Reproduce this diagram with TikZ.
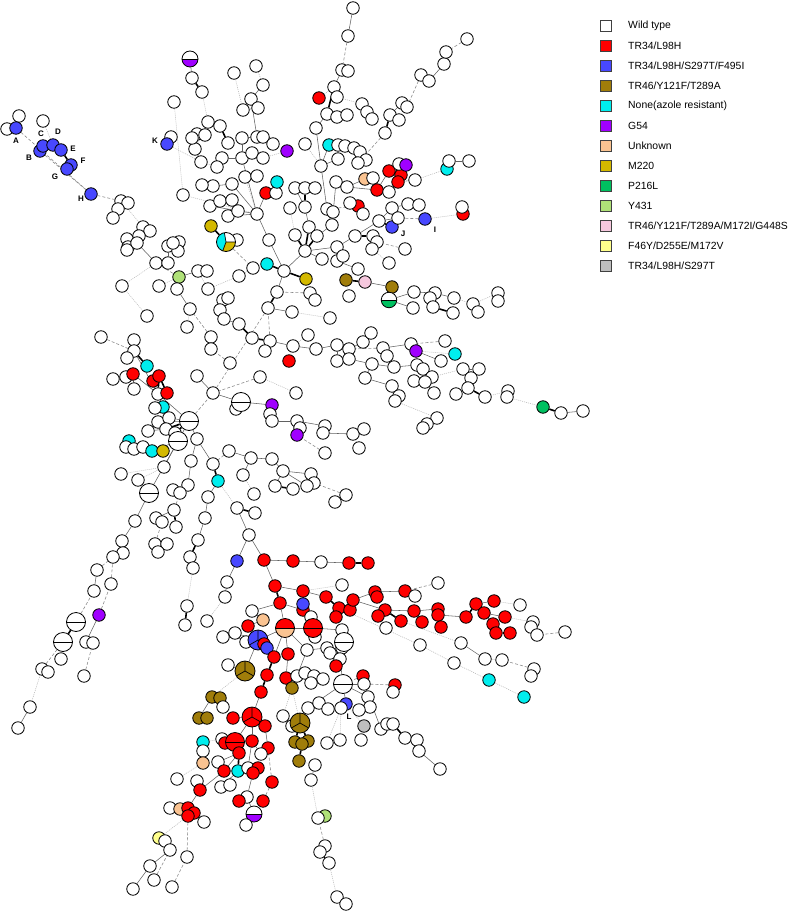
\documentclass[tikz,border=0pt]{standalone}
\usepackage{fontspec}
\setmainfont{Liberation Sans}
\usepackage{tikz}

\definecolor{tRed}{RGB}{255,0,0}
\definecolor{tBlue}{RGB}{72,72,255}
\definecolor{tOlive}{RGB}{160,125,10}
\definecolor{tCyan}{RGB}{0,238,238}
\definecolor{tPurple}{RGB}{160,0,255}
\definecolor{tPeach}{RGB}{250,195,145}
\definecolor{tGold}{RGB}{212,185,0}
\definecolor{tGreen}{RGB}{0,192,96}
\definecolor{tLime}{RGB}{175,225,120}
\definecolor{tPink}{RGB}{246,200,222}
\definecolor{tYellow}{RGB}{255,255,140}
\definecolor{tGrey}{RGB}{190,190,190}

\pgfdeclarelayer{links}
\pgfsetlayers{links,main}

\tikzset{
  iso/.style={circle, draw=black, line width=0.8pt, minimum size=12.5pt, inner sep=0pt},
  wt/.style={iso, fill=white},   rd/.style={iso, fill=tRed},
  bl/.style={iso, fill=tBlue},   br/.style={iso, fill=tOlive},
  cy/.style={iso, fill=tCyan},   pu/.style={iso, fill=tPurple},
  pc/.style={iso, fill=tPeach},  gd/.style={iso, fill=tGold},
  gn/.style={iso, fill=tGreen},  lg/.style={iso, fill=tLime},
  pk/.style={iso, fill=tPink},   yl/.style={iso, fill=tYellow},
  gy/.style={iso, fill=tGrey},
  half/.style 2 args={iso, minimum size=19pt, fill=#1,
    path picture={\fill[#2] (path picture bounding box.west) rectangle (path picture bounding box.south east);
      \draw[line width=0.7pt] (path picture bounding box.west) -- (path picture bounding box.east);}},
  hww/.style={half={white}{white}},
  hwp/.style={half={white}{tPurple}, minimum size=16pt},
  hwg/.style={half={white}{tGreen}, minimum size=15.5pt},
  hrp/.style={half={tRed}{tPeach}},
  hrr/.style={half={tRed}{tRed}},
  tri/.style={iso, minimum size=20pt, fill=#1,
    path picture={\draw[line width=0.7pt] (path picture bounding box.center) -- ++(90:11pt)
      (path picture bounding box.center) -- ++(210:11pt)
      (path picture bounding box.center) -- ++(330:11pt);}},
  trd/.style={tri=tRed}, tbl/.style={tri=tBlue}, tbr/.style={tri=tOlive},
  pcg/.style={iso, minimum size=19pt, fill=white,
    path picture={\begin{scope}[shift={(path picture bounding box.center)}]
      \fill[tCyan] (0pt,0pt) -- (100:14pt) -- (170:14pt) -- (250:14pt) -- cycle;
      \fill[tGold] (0pt,0pt) -- (250:14pt) -- (300:14pt) -- (0:14pt) -- cycle;
      \draw[line width=0.7pt] (100:14pt) -- (0pt,0pt) -- (250:14pt) (0pt,0pt) -- (0:14pt);
      \end{scope}}},
  % --- links of the tree ---
  sl/.style={draw=black!62, line width=0.55pt},
  dl/.style={draw=black!45, line width=0.6pt, dash pattern=on 3pt off 2pt},
  tl/.style={draw=black!28, line width=0.55pt, dash pattern=on 1pt off 1pt},
  kl/.style={draw=black, line width=1.6pt},
  nl/.style={draw=none},
  % --- key and labels ---
  key/.style={draw=black!75, line width=0.7pt, minimum size=11.5pt, inner sep=0pt},
  keytext/.style={anchor=west, inner sep=0pt, font=\fontsize{10.4}{12}\selectfont},
  lbl/.style={inner sep=0pt, font=\bfseries\fontsize{8}{9}\selectfont}
}

% name/x/y/style/parent/link
\def\mstlist{%
c0/305/251/wt/c1/nl, c1/295/235/wt/c0/kl, c2/309/227/wt/c0/kl, c3/317/236/wt/c0/kl,
c4/322/259/wt/c0/sl, c5/337/247/wt/c0/sl, c6/337/261/wt/c5/sl, c7/343/256/wt/c5/kl,
c8/358/269/wt/c6/sl, c9/284/271/wt/c0/sl, c10/267/264/cy/c9/kl, c11/253/268/wt/c10/tl,
c12/239/276/wt/c11/tl, c13/306/279/gd/c9/kl, c14/277/292/wt/c9/sl, c15/268/308/wt/c14/kl,
c16/292/312/wt/c15/sl, c17/310/293/wt/c14/dl, c18/315/300/wt/c17/sl, c19/330/318/wt/c16/tl,
c20/269/240/wt/c9/sl, c21/257/214/wt/c20/sl, c22/355/236/wt/c5/sl, c23/373/236/wt/c22/kl,
c24/377/242/wt/c23/sl, c25/372/249/wt/c24/sl, c26/405/249/wt/c24/dl, c27/389/263/wt/c25/tl,
c28/346/280/br/c8/tl, c29/365/282/pk/c28/kl, c30/392/287/br/c29/sl, c31/389/300/hwg/c30/sl,
c32/349/296/wt/c28/tl, c33/414/292/wt/c31/sl, c34/413/308/wt/c31/sl, c35/435/293/wt/c33/sl,
c36/430/298/wt/c35/kl, c37/454/298/wt/c35/sl, c38/433/307/wt/c36/sl, c39/453/313/wt/c38/kl,
c40/473/304/wt/c37/tl, c41/478/312/wt/c40/sl, c42/498/293/wt/c40/tl, c43/498/301/wt/c42/tl,
u1/332/225/wt/c3/sl, u2/327/209/wt/u1/sl, u3/333/212/wt/u2/sl, u4/290/208/wt/c1/tl,
u5/305/207/wt/c2/sl, u6/295/188/wt/u5/sl, u7/305/188/wt/u5/kl, u8/315/188/wt/u7/sl,
u9/321/166/wt/u2/sl, u10/316/128/wt/u9/sl, u11/305/144/wt/u9/tl, u12/327/114/wt/u10/sl,
u13/337/117/wt/u12/sl, u14/347/115/wt/u13/sl, u15/334/87/wt/u12/kl, u16/337/97/wt/u15/sl,
u17/319/98/rd/u15/tl, u18/342/70/wt/u15/sl, u19/348/71/wt/u18/sl, u20/348/36/wt/u18/dl,
u21/353/8/wt/u20/sl, u22/329/145/cy/u9/sl, u23/338/145/wt/u22/sl, u24/345/146/wt/u23/sl,
u25/354/148/wt/u24/tl, u26/360/152/wt/u25/tl, u27/366/160/wt/u26/sl, u28/358/163/wt/u27/sl,
u29/338/159/wt/u9/sl, u30/336/182/wt/u1/sl, u31/347/187/wt/u30/sl, u32/365/179/pc/u31/sl,
u33/373/178/wt/u32/sl, u34/377/190/rd/u31/sl, u35/389/192/wt/u34/sl, u36/389/171/rd/u34/sl,
u37/401/175/rd/u36/kl, u38/398/182/rd/u37/sl, u39/399/164/wt/u36/sl, u40/406/165/pu/u39/sl,
u41/415/180/wt/u38/dl, u42/447/169/cy/u41/tl, u43/449/161/wt/u42/sl, u44/469/161/wt/u43/sl,
u45/358/206/rd/u2/dl, u46/363/214/wt/u45/sl, u47/350/203/wt/u45/sl, u48/379/221/wt/c22/sl,
u49/392/227/bl/u48/kl, u50/392/208/wt/u48/sl, u51/408/204/wt/u50/sl, u52/419/205/wt/u51/sl,
u53/398/218/wt/u48/sl, u54/425/219/bl/u53/dl, u55/463/214/rd/u54/tl, u56/462/207/wt/u55/sl,
u57/362/104/wt/u16/tl, u58/367/112/wt/u57/sl, u59/372/119/wt/u58/sl, u60/385/133/wt/u28/dl,
u61/390/115/wt/u60/kl, u62/399/120/wt/u61/sl, u63/402/103/wt/u61/sl, u64/407/107/wt/u63/sl,
u65/421/75/wt/u64/dl, u66/429/81/wt/u65/sl, u67/444/64/wt/u66/sl, u68/446/52/wt/u67/sl,
u69/467/39/wt/u68/dl,
v1/245/177/wt/c21/tl, v2/257/176/wt/v1/sl, v3/232/184/wt/c21/sl, v4/213/186/wt/v3/sl,
v5/202/185/wt/v4/sl, v6/183/195/wt/c21/tl, v7/210/206/wt/c21/sl, v8/220/201/wt/v7/sl,
v9/232/200/wt/v8/sl, v10/228/216/wt/c21/sl, v11/238/211/wt/v10/kl, v12/266/193/rd/c21/sl,
v13/276/193/wt/v12/sl, v14/277/182/cy/v13/sl, v15/242/158/wt/c21/sl, v16/252/153/wt/v15/sl,
v17/263/158/wt/v16/sl, v18/222/158/wt/v15/sl, v19/217/167/wt/v18/sl, v20/201/162/wt/v19/tl,
v21/195/149/wt/v20/sl, v22/197/134/wt/v21/sl, v23/205/135/wt/v22/sl, v24/192/138/wt/v22/sl,
v25/208/122/wt/v21/tl, v26/220/126/wt/v25/sl, v27/228/143/wt/v26/kl, v28/174/102/wt/v6/tl,
v30/171/137/wt/v29/sl, v29/167/144/bl/v20/tl, v31/242/138/wt/v15/sl, v32/257/137/wt/v31/sl,
v33/263/137/wt/v32/sl, v34/273/144/wt/v33/sl, v35/287/151/pu/v17/tl, v36/251/99/wt/v32/sl,
v37/258/108/wt/v36/sl, v38/243/110/wt/v37/sl, v39/263/85/wt/v36/sl, v40/256/66/wt/v39/tl,
v41/234/73/wt/v38/tl, v42/202/92/wt/v25/tl, v43/192/78/wt/v42/kl, v44/190/59/hwp/v43/sl,
w3/237/240/wt/w1/sl, w1/226/242/pcg/c11/dl, w2/211/226/gd/w1/kl,
b0/19/116/wt/b1/sl, b2/7/129/wt/b1/sl, b1/16/128/bl/b10/dl, b3/43/121/wt/b5/tl,
b6/40/151/bl/b10/dl, b4/43/146/bl/b6/sl, b5/53/145/bl/b4/sl, b7/61/150/bl/b5/sl,
b8/71/165/bl/b7/kl, b9/67/169/bl/b8/sl, b10/91/194/bl/d1/dl,
d1/121/201/wt/d5/tl, d2/128/203/wt/d1/sl, d3/118/209/wt/d1/sl, d4/113/218/wt/d3/sl,
d5/143/227/wt/d7/sl, d6/150/231/wt/d5/sl, d7/139/236/wt/d11/sl, d8/127/239/wt/d7/sl,
d9/128/247/wt/d8/sl, d10/127/250/wt/d9/sl, d11/137/243/wt/d12/sl, d12/156/263/wt/d17/dl,
d13/168/263/wt/d12/kl, d14/168/246/wt/d13/sl, d15/179/242/wt/d14/sl, d16/178/251/wt/d15/sl,
d17/179/277/lg/d20/sl, d18/122/286/wt/d12/tl, d19/159/286/wt/d17/tl, d20/198/271/wt/d22/tl,
d21/207/271/wt/d20/sl, d22/208/289/wt/c12/tl, d23/177/289/wt/d17/sl, d24/190/309/wt/d23/sl,
d26/147/316/wt/d18/tl, d27/187/327/wt/d24/tl, d28/173/243/wt/d15/sl,
m1/223/300/wt/m3/sl, m2/228/298/wt/m1/sl, m3/220/310/wt/m4/sl, m4/224/319/wt/m5/sl,
m5/239/324/wt/m6/kl, m6/252/338/wt/m7/kl, m7/270/341/wt/c15/dl, m8/265/351/wt/m7/sl,
m9/293/346/wt/m7/sl, m10/308/335/wt/m9/tl, m11/316/349/wt/m9/sl, m12/289/361/rd/m9/tl,
m13/337/345/wt/m11/sl, m14/349/349/wt/m13/sl, m15/363/342/wt/m14/sl, m16/371/333/wt/m15/sl,
m17/337/361/wt/m13/sl, m18/349/359/wt/m17/sl, m19/383/348/wt/m14/dl, m20/387/356/wt/m19/sl,
m21/411/344/wt/m19/sl, m22/416/351/pu/m21/sl, m23/445/341/wt/m21/dl, m24/455/354/cy/m22/tl,
m25/441/361/wt/m22/sl, m26/372/364/wt/m18/sl, m27/365/378/wt/m26/sl, m28/394/367/wt/m26/sl,
m29/417/365/wt/m28/sl, m30/423/369/wt/m29/sl, m31/432/377/wt/m30/sl, m32/414/381/wt/m31/sl,
m33/425/382/wt/m31/sl, m34/434/393/wt/m33/sl, m35/463/369/wt/m31/tl, m36/479/369/wt/m35/sl,
m37/471/378/wt/m36/kl, m38/468/388/wt/m37/sl, m39/485/397/wt/m38/kl, m40/456/394/wt/m38/tl,
m41/508/391/wt/m39/tl, m42/507/397/wt/m41/sl, m43/543/407/gn/m42/tl, m44/561/413/wt/m43/kl,
m45/583/411/wt/m44/sl, m46/392/386/wt/m27/sl, m47/399/396/wt/m46/sl, m48/395/401/wt/m47/sl,
m49/437/418/wt/m48/tl, m50/427/424/wt/m49/sl, m51/423/428/wt/m50/sl, m52/211/337/wt/d24/dl,
m53/211/349/wt/m52/sl, m54/230/363/wt/m53/dl, m55/197/376/wt/m56/sl, m56/213/393/wt/c15/dl,
m57/260/377/wt/m56/dl, m58/296/393/wt/m57/tl, m60/236/409/wt/m59/sl, m59/241/402/hww/m56/sl,
m61/272/405/pu/m59/sl, m62/270/414/wt/m61/sl, m63/272/421/wt/m62/sl, m64/297/421/wt/m63/sl,
m65/300/428/wt/m64/sl, m66/297/435/pu/m65/sl, m67/325/426/wt/m64/sl, m68/323/433/wt/m67/sl,
m69/353/434/wt/m68/sl, m70/364/429/wt/m69/sl, m71/325/453/wt/m66/dl, m72/359/448/wt/m69/tl,
l1/189/421/hww/m56/dl, l2/197/439/wt/l1/sl, l3/101/337/wt/l5/dl, l4/134/340/wt/l5/sl,
l5/134/351/wt/l8/sl, l6/127/358/wt/l5/sl, l7/147/366/cy/l5/kl, l8/158/394/wt/l1/sl,
l9/126/377/wt/l10/sl, l10/133/374/rd/l8/sl, l11/153/381/rd/l12/sl, l12/159/376/rd/l8/kl,
l13/167/393/rd/l12/kl, l14/113/379/wt/l10/sl, l15/134/389/wt/l10/sl, l16/163/407/cy/l8/sl,
l17/155/408/wt/l16/sl, l18/158/422/wt/l1/sl, l19/169/418/wt/l1/sl, l20/166/429/wt/l1/kl,
l21/175/433/wt/l1/kl, l22/148/431/wt/l20/sl, l23/178/441/hww/l1/sl, l24/129/441/cy/l25/sl,
l25/126/447/wt/l26/sl, l26/134/449/wt/l27/sl, l27/143/447/wt/l28/sl, l28/152/451/cy/l23/sl,
l29/163/451/gd/l28/sl, l30/191/461/wt/l2/sl, l31/164/467/wt/l23/sl, l32/121/474/wt/l31/tl,
l33/138/480/wt/l31/tl, l34/188/485/wt/l30/sl, l35/173/490/wt/l34/sl, l36/180/493/wt/l35/sl,
l37/149/493/hww/l23/sl, l38/174/510/wt/l36/dl, l39/176/527/wt/l38/kl, l40/156/518/wt/l38/sl,
l41/162/522/wt/l40/sl, l42/155/544/wt/l41/dl, l43/167/544/wt/l42/sl, l44/158/552/wt/l43/sl,
l45/135/521/wt/l37/sl, l46/122/541/wt/l45/sl, l47/123/553/wt/l46/kl, l48/113/557/wt/l47/sl,
l49/97/570/wt/l48/dl, l50/111/584/wt/l48/dl, l51/94/591/wt/l49/sl, l52/99/615/pu/l50/dl,
l53/76/622/hww/l51/dl, l54/63/642/hww/l53/kl, l55/86/642/wt/l52/sl, l56/93/643/wt/l55/sl,
l57/61/659/wt/l54/sl, l58/42/669/wt/l54/dl, l59/48/672/wt/l58/sl, l60/84/676/wt/l56/dl,
l61/30/707/wt/l58/tl, l63/18/728/wt/l61/sl,
k1/213/464/wt/l2/sl, k2/218/481/cy/k1/kl, k3/208/497/wt/k2/sl, k4/205/518/wt/k3/sl,
k5/198/540/wt/k4/sl, k6/190/557/wt/k5/kl, k7/193/568/wt/k6/sl, k8/187/606/wt/k7/tl,
k9/185/625/wt/k8/kl, k10/207/621/wt/k11/tl, k11/225/597/wt/k12/sl, k12/227/582/wt/k13/sl,
k13/237/561/bl/k14/sl, k14/249/535/wt/k15/sl, k15/237/508/wt/k2/tl, k16/255/513/wt/k15/kl,
k17/229/451/wt/k1/dl, k18/251/458/wt/k17/sl, k19/272/459/wt/k18/sl, k20/243/475/wt/k18/sl,
k21/254/494/wt/k20/tl, k22/283/471/wt/k19/sl, k23/311/474/wt/k22/sl, k24/314/483/wt/k23/sl,
k25/307/486/wt/k22/sl, k26/275/486/wt/k22/sl, k27/293/489/wt/k26/kl, k28/346/495/wt/k24/dl,
k29/335/502/wt/k28/sl,
r1/264/560/rd/k14/sl, r2/293/561/rd/r1/sl, r3/321/562/wt/r2/sl, r4/349/563/rd/r3/sl,
r5/368/563/rd/r4/kl, r6/275/586/rd/r1/sl, r7/303/591/rd/r6/sl, r8/342/585/wt/r7/tl,
r9/280/603/rd/r6/kl, r11/303/610/rd/r9/sl, r10/303/604/bl/r11/sl, r12/326/597/rd/r7/sl,
r13/339/608/rd/r12/kl, r14/336/617/rd/r13/sl, r15/350/610/rd/r13/sl, r16/353/600/rd/r15/sl,
r17/375/592/rd/r16/sl, r18/377/597/rd/r17/sl, r19/405/591/rd/r17/sl, r20/415/596/wt/r19/sl,
r21/438/583/wt/r19/dl, r22/385/610/rd/r16/sl, r23/378/616/rd/r22/sl, r24/401/621/rd/r22/kl,
r25/386/628/wt/r23/sl, r26/414/611/rd/r22/sl, r27/422/622/rd/r26/kl, r28/438/609/rd/r26/sl,
r29/438/615/rd/r28/sl, r30/441/627/rd/r29/kl, r31/466/617/rd/r29/sl, r32/476/604/rd/r31/kl,
r33/494/601/rd/r32/sl, r34/484/613/rd/r32/sl, r35/505/617/rd/r34/sl, r36/493/624/rd/r34/sl,
r37/496/633/rd/r36/sl, r38/510/633/rd/r37/kl, r39/520/605/wt/r33/tl, r40/533/622/wt/r35/tl,
r41/531/627/wt/r40/sl, r42/537/635/wt/r41/sl, r43/565/632/wt/r42/dl, r44/420/645/wt/r13/tl,
r45/461/643/wt/r24/tl, r46/485/659/wt/r45/sl, r47/502/660/wt/r46/tl, r48/534/669/wt/r47/dl,
r49/531/676/wt/r48/sl, r50/454/663/wt/r44/tl, r51/489/680/cy/r50/tl, r52/524/697/cy/r51/tl,
s1/252/611/wt/r9/sl, s2/263/620/pc/s1/sl, s3/248/626/rd/s2/sl, s14/223/637/wt/s11/sl,
s15/235/633/wt/s11/sl, s16/246/642/wt/s11/sl, s11/258/640/tbl/s4/sl, s12/264/644/rd/s11/sl,
s13/267/648/bl/s12/sl, s6/311/617/wt/s5/sl, s8/315/637/wt/s5/sl, s4/285/628/hrp/r9/sl,
s5/313/628/hrr/s4/sl, s7/342/630/wt/s5/sl, s10/342/648/wt/s9/sl, s9/344/642/hww/s7/sl,
s17/228/665/wt/s19/sl, s19/245/671/tbr/s11/sl, s18/274/657/rd/s4/sl, s20/288/654/rd/s4/sl,
s21/267/675/rd/s18/kl, s22/286/678/rd/s20/sl, s23/261/692/rd/s21/kl, s24/307/650/wt/s4/sl,
s25/327/648/wt/s24/sl, s26/330/653/wt/s25/sl, s27/340/659/wt/s26/sl, s28/336/666/rd/s27/sl,
s29/297/676/wt/s24/sl, s30/305/673/wt/s29/sl, s31/314/676/wt/s30/sl, s32/323/679/wt/s31/sl,
s33/311/683/wt/s31/sl, s34/292/688/br/s22/tl, s35/343/684/hww/s27/sl, s36/363/676/rd/s35/dl,
s37/364/684/wt/s35/sl, s38/395/685/rd/s37/dl, s39/393/692/wt/s38/sl, s40/368/697/wt/s35/sl,
s41/370/707/wt/s40/sl, s42/359/710/wt/s41/sl, s43/346/704/bl/s35/sl, s44/308/708/wt/s35/sl,
s45/319/703/wt/s44/sl, s46/328/709/wt/s45/sl, s47/341/708/wt/s46/sl, s48/364/726/gy/s43/tl,
s49/283/716/wt/s34/tl, s51/292/726/wt/s50/sl, s50/300/723/tbr/s34/tl, s52/295/742/br/s50/kl,
s53/308/741/br/s50/kl, s54/302/744/br/s52/sl, s55/299/761/br/s54/kl, s56/315/765/wt/s55/tl,
s57/311/780/wt/s56/sl, s59/325/816/lg/s58/sl, s58/318/818/wt/s57/tl, s60/325/846/wt/s58/dl,
s61/320/852/wt/s60/sl, s62/329/863/wt/s61/kl, s63/337/897/wt/s62/tl, s64/346/904/wt/s63/sl,
s65/381/729/wt/s37/sl, s66/387/724/wt/s65/sl, s67/393/724/wt/s66/sl, s68/405/738/wt/s67/kl,
s69/417/740/wt/s68/sl, s70/419/751/wt/s69/sl, s71/440/769/wt/s70/sl, s72/327/743/wt/s47/tl,
s73/340/740/wt/s47/tl, s74/361/740/wt/s48/tl,
t1/212/697/br/s19/tl, t2/220/698/br/t1/sl, t3/223/707/wt/t2/sl, t4/199/718/br/t1/sl,
t5/207/718/br/t4/sl, t8/252/717/trd/s23/sl, t7/233/718/rd/t8/sl, t9/265/726/rd/t8/sl,
t12/222/739/wt/t11/sl, t10/225/743/rd/t11/sl, t11/235/742/hrr/t8/sl, t13/252/741/rd/t8/sl,
t14/239/753/rd/t11/kl, t15/268/748/rd/t9/sl, t16/261/754/wt/t13/sl, t17/203/742/cy/t12/tl,
t18/203/751/wt/t17/sl, t19/203/763/pc/t18/sl, t20/218/762/wt/t14/sl, t21/224/771/rd/t14/sl,
t22/238/771/cy/t14/kl, t23/248/768/wt/t13/sl, t24/258/768/rd/t23/sl, t25/253/773/rd/t24/sl,
t26/272/782/rd/t15/dl, t27/177/779/wt/t19/tl, t28/197/781/wt/t29/sl, t29/200/790/rd/t21/sl,
t30/221/787/wt/t22/sl, t31/230/785/wt/t30/sl, t32/247/797/wt/t25/sl, t33/239/801/rd/t32/sl,
t34/263/801/rd/t26/dl, t35/254/814/hwp/t32/sl, t36/246/825/wt/t35/sl, t37/170/808/wt/t38/sl,
t38/180/809/pc/t39/sl, t39/188/808/rd/t29/sl, t40/194/813/rd/t39/sl, t41/188/816/rd/t39/sl,
t42/204/822/wt/t40/tl, t43/159/838/yl/t41/tl, t44/165/841/wt/t43/sl, t45/170/850/wt/t44/sl,
t46/187/857/wt/t41/dl, t47/150/866/wt/t45/sl, t48/133/889/wt/t47/sl, t49/154/880/wt/t45/dl,
t50/172/887/wt/t46/dl}

\begin{document}
\begin{tikzpicture}[x=1pt, y=-1pt]
  \useasboundingbox (0,0) rectangle (798,912);
  % --- Isolates ---
  \foreach \n/\x/\y/\s/\p/\e in \mstlist {
    \node[\s] (\n) at (\x,\y) {};
  }
  % --- Tree links, behind the isolates ---
  \begin{pgfonlayer}{links}
    \foreach \n/\x/\y/\s/\p/\e in \mstlist {
      \draw[\e] (\n) -- (\p);
    }
  \end{pgfonlayer}
  % --- Isolate letters ---
  \node[lbl] (labA) at (16,141) {A};
  \node[lbl] (labB) at (29,158) {B};
  \node[lbl] (labC) at (41,134) {C};
  \node[lbl] (labD) at (58,132) {D};
  \node[lbl] (labE) at (73,149) {E};
  \node[lbl] (labF) at (83,161) {F};
  \node[lbl] (labG) at (55,177) {G};
  \node[lbl] (labH) at (81,199) {H};
  \node[lbl] (labI) at (435,230) {I};
  \node[lbl] (labJ) at (403,234) {J};
  \node[lbl] (labK) at (155,141) {K};
  \node[lbl] (labL) at (349,717) {L};
  % --- Key ---
  \node[key, fill=white]   (kWild) at (606,26) {};
  \node[keytext] (tWild) at (628,26) {Wild type};
  \node[key, fill=tRed]    (kTRa) at (606,46) {};
  \node[keytext] (tTRa) at (628,46) {TR34/L98H};
  \node[key, fill=tBlue]   (kTRb) at (606,66) {};
  \node[keytext] (tTRb) at (628,66) {TR34/L98H/S297T/F495I};
  \node[key, fill=tOlive]  (kTRc) at (606,86) {};
  \node[keytext] (tTRc) at (628,86) {TR46/Y121F/T289A};
  \node[key, fill=tCyan]   (kNone) at (606,106) {};
  \node[keytext] (tNone) at (628,106) {None(azole resistant)};
  \node[key, fill=tPurple] (kG) at (606,126) {};
  \node[keytext] (tG) at (628,126) {G54};
  \node[key, fill=tPeach]  (kUnk) at (606,146) {};
  \node[keytext] (tUnk) at (628,146) {Unknown};
  \node[key, fill=tGold]   (kM) at (606,166) {};
  \node[keytext] (tM) at (628,166) {M220};
  \node[key, fill=tGreen]  (kP) at (606,186) {};
  \node[keytext] (tP) at (628,186) {P216L};
  \node[key, fill=tLime]   (kY) at (606,206) {};
  \node[keytext] (tY) at (628,206) {Y431};
  \node[key, fill=tPink]   (kTRd) at (606,226) {};
  \node[keytext] (tTRd) at (628,226) {TR46/Y121F/T289A/M172I/G448S};
  \node[key, fill=tYellow] (kF) at (606,246) {};
  \node[keytext] (tF) at (628,246) {F46Y/D255E/M172V};
  \node[key, fill=tGrey]   (kTRe) at (606,266) {};
  \node[keytext] (tTRe) at (628,266) {TR34/L98H/S297T};
\end{tikzpicture}
\end{document}
